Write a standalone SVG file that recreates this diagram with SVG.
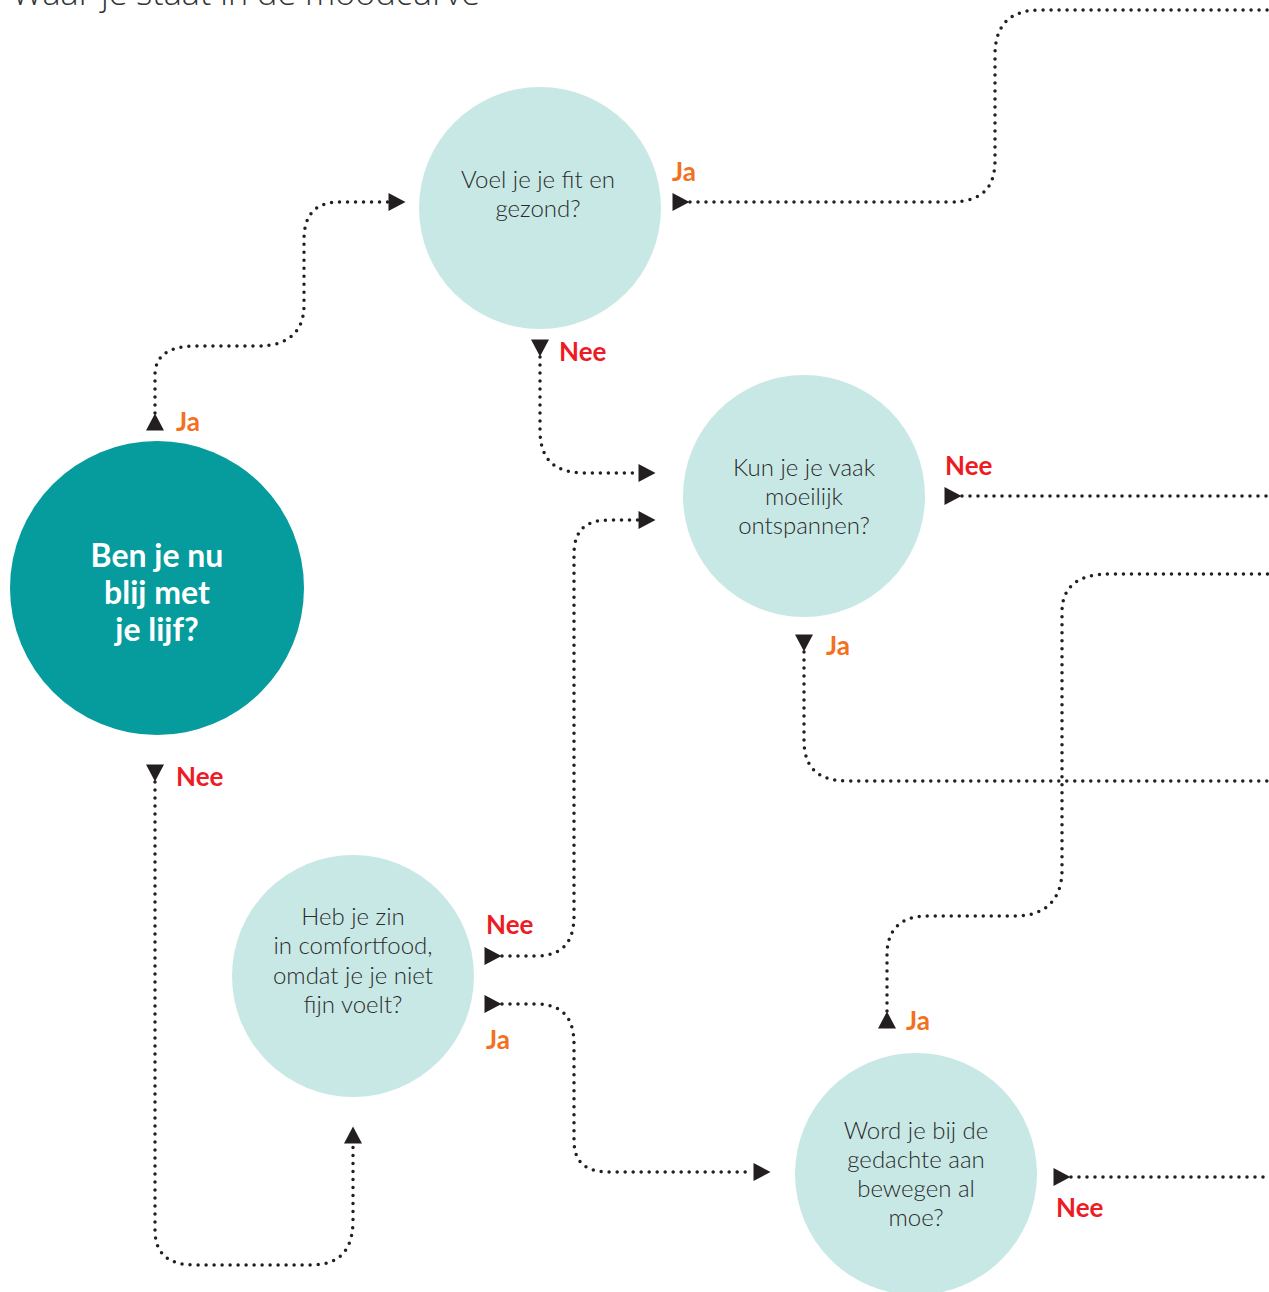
<svg xmlns="http://www.w3.org/2000/svg" xmlns:xlink="http://www.w3.org/1999/xlink" width="1269" height="1292" viewBox="0 0 1269 1292">
<style>
.bg{fill:#ffffff}
.q{fill:#c8e8e5}
.main{fill:#069c9e}
.qt{font-family:Lato,"Open Sans","Liberation Sans",sans-serif;font-weight:300;font-size:24px;fill:#2b2b2b;text-anchor:middle}
.mt{font-family:Lato,"Open Sans","Liberation Sans",sans-serif;font-weight:700;font-size:32px;fill:#ffffff;text-anchor:middle}
.ja{font-family:Lato,"Open Sans","Liberation Sans",sans-serif;font-weight:700;font-size:26px;fill:#f37021}
.nee{font-family:Lato,"Open Sans","Liberation Sans",sans-serif;font-weight:700;font-size:26px;fill:#ed1c24}
.title{font-family:"Open Sans",Lato,"Liberation Sans",sans-serif;font-weight:300;font-size:33px;fill:#333333}
.dot{fill:none;stroke:#231f20;stroke-width:3.5;stroke-linecap:round;stroke-dasharray:0 8}
.ah{fill:#231f20}
</style>
<defs>
<path id="ah" d="M-8.5,-9 L8.5,0 L-8.5,9 Z"/>
</defs>
<rect class="bg" x="0" y="0" width="1269" height="1292"/>
<text class="title" x="12" y="5" textLength="468" lengthAdjust="spacingAndGlyphs">Waar je staat in de moodcurve</text>

<g id="connectors">
<path class="dot" d="M155,413 V375 C155,355 170,346 195,346 H258 C290,346 304,330 304,305 V240 C304,215 315,202 340,202 H388"/>
<path class="dot" d="M690,202 H950 C985,202 995,185 995,160 V55 C995,25 1010,10 1040,10 H1269"/>
<path class="dot" d="M540,357 V430 C540,460 555,473 585,473 H638"/>
<path class="dot" d="M962,496 H1269"/>
<path class="dot" d="M804,652 V740 C804,768 818,781 848,781 H1269"/>
<path class="dot" d="M155,782 V1230 C155,1255 170,1265 195,1265 H310 C340,1265 353,1250 353,1220 V1144"/>
<path class="dot" d="M502,956 H535 C565,956 574,940 574,915 V555 C574,530 585,520 610,520 H638"/>
<path class="dot" d="M502,1004 H535 C565,1004 574,1020 574,1045 V1140 C574,1162 585,1172 610,1172 H753"/>
<path class="dot" d="M887,1011 V955 C887,930 900,916 928,916 H1015 C1045,916 1062,900 1062,870 V612 C1062,585 1080,574 1110,574 H1269"/>
<path class="dot" d="M1071,1177 H1269"/>
<g class="ah">
<use xlink:href="#ah" transform="translate(155,422) rotate(-90)"/>
<use xlink:href="#ah" transform="translate(397,202)"/>
<use xlink:href="#ah" transform="translate(681,202)"/>
<use xlink:href="#ah" transform="translate(540,348) rotate(90)"/>
<use xlink:href="#ah" transform="translate(647,473)"/>
<use xlink:href="#ah" transform="translate(647,520)"/>
<use xlink:href="#ah" transform="translate(953,496)"/>
<use xlink:href="#ah" transform="translate(804,643) rotate(90)"/>
<use xlink:href="#ah" transform="translate(887,1020) rotate(-90)"/>
<use xlink:href="#ah" transform="translate(155,773) rotate(90)"/>
<use xlink:href="#ah" transform="translate(353,1135) rotate(-90)"/>
<use xlink:href="#ah" transform="translate(493,956)"/>
<use xlink:href="#ah" transform="translate(493,1004)"/>
<use xlink:href="#ah" transform="translate(762,1172)"/>
<use xlink:href="#ah" transform="translate(1062,1177)"/>
</g>
<text class="ja" x="176" y="431">Ja</text>
<text class="ja" x="672" y="181">Ja</text>
<text class="nee" x="559" y="361">Nee</text>
<text class="nee" x="945" y="475">Nee</text>
<text class="ja" x="826" y="655">Ja</text>
<text class="nee" x="176" y="786">Nee</text>
<text class="nee" x="486" y="934">Nee</text>
<text class="ja" x="486" y="1049">Ja</text>
<text class="ja" x="906" y="1030">Ja</text>
<text class="nee" x="1056" y="1217">Nee</text>
</g>

<g id="node-main">
<circle class="main" cx="157" cy="588" r="147"/>
<text class="mt" x="157" y="567">Ben je nu</text>
<text class="mt" x="157" y="604">blij met</text>
<text class="mt" x="157" y="641">je lijf?</text>
</g>
<g id="node-fit">
<circle class="q" cx="540" cy="208" r="121"/>
<text class="qt" x="538" y="188">Voel je je fit en</text>
<text class="qt" x="538" y="217">gezond?</text>
</g>
<g id="node-ontspannen">
<circle class="q" cx="804" cy="496" r="121"/>
<text class="qt" x="804" y="476">Kun je je vaak</text>
<text class="qt" x="804" y="505">moeilijk</text>
<text class="qt" x="804" y="534">ontspannen?</text>
</g>
<g id="node-comfortfood">
<circle class="q" cx="353" cy="976" r="121"/>
<text class="qt" x="353" y="925">Heb je zin</text>
<text class="qt" x="353" y="954">in comfortfood,</text>
<text class="qt" x="353" y="984">omdat je je niet</text>
<text class="qt" x="353" y="1013">fijn voelt?</text>
</g>
<g id="node-bewegen">
<circle class="q" cx="916" cy="1174" r="121"/>
<text class="qt" x="916" y="1139">Word je bij de</text>
<text class="qt" x="916" y="1168">gedachte aan</text>
<text class="qt" x="916" y="1197">bewegen al</text>
<text class="qt" x="916" y="1226">moe?</text>
</g>
</svg>
